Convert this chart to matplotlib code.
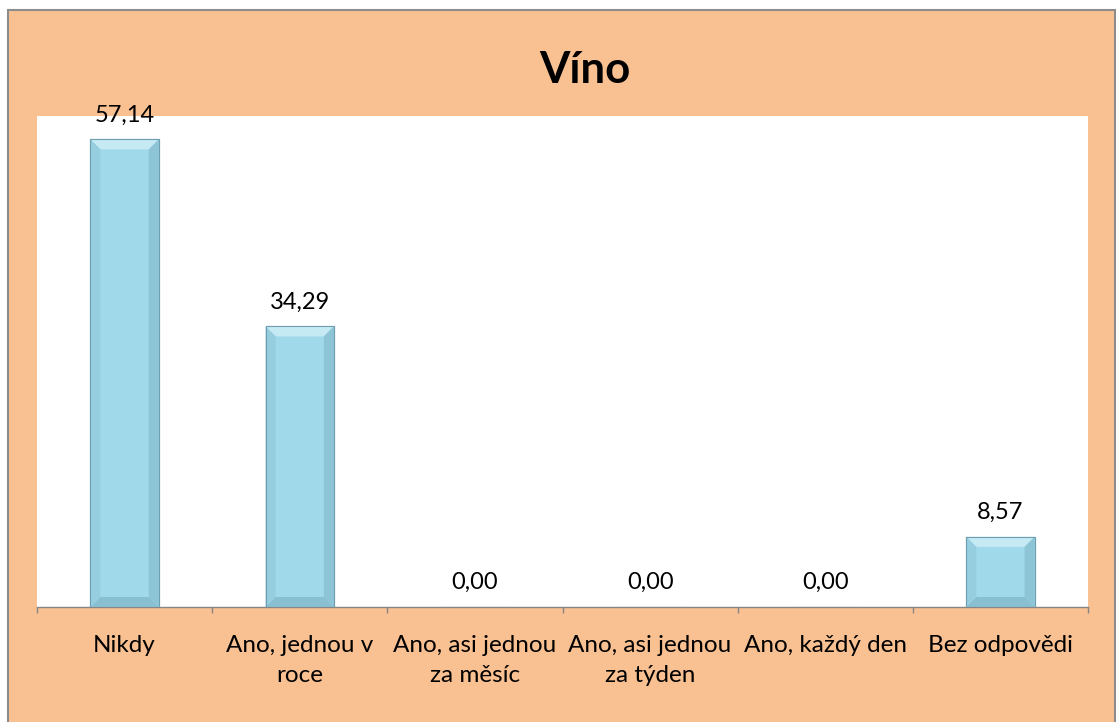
import matplotlib
matplotlib.use("Agg")
import matplotlib.pyplot as plt
from matplotlib.patches import Rectangle, Polygon
import numpy as np

categories = ["Nikdy", "Ano, jednou v\nroce", "Ano, asi jednou\nza měsíc",
              "Ano, asi jednou\nza týden", "Ano, každý den", "Bez odpovědi"]
values = [57.14, 34.29, 0.00, 0.00, 0.00, 8.57]
labels = ["57,14", "34,29", "0,00", "0,00", "0,00", "8,57"]
title = "Víno"

plt.rcParams['font.family'] = ['Lato', 'DejaVu Sans']

W, H = 1117, 722
fig = plt.figure(figsize=(W / 100, H / 100), dpi=100)
fig.patch.set_facecolor('white')

peach = '#F9C192'
fig.patches.append(Rectangle((8 / W, -0.01), (1115 - 8) / W, 1 - 10 / H + 0.01,
                             transform=fig.transFigure, facecolor=peach,
                             edgecolor='#8C8C8C', linewidth=1.5, zorder=-10))

ax = fig.add_axes([37 / W, 1 - 607 / H, (1088 - 37) / W, (607 - 116) / H])
ax.set_zorder(1)
ax.set_facecolor('white')
ax.set_xlim(-0.5, len(categories) - 0.5)
ax.set_ylim(0, 60)

x = np.arange(len(categories))
bw = 0.39
bars = ax.bar(x, values, width=bw, color='#A0D9EA', edgecolor='#6E9FB0',
              linewidth=0.8, zorder=3)

# bevel effect (derived from the bar geometry)
fig.canvas.draw()
inv = ax.transData.inverted()
for b in bars:
    h = b.get_height()
    if h <= 0:
        continue
    x0, y0 = b.get_x(), b.get_y()
    x1, y1 = x0 + b.get_width(), y0 + h
    (px0, py0), (px1, py1) = ax.transData.transform([(x0, y0), (x1, y1)])
    d = 10
    pts_outer = [(px0, py1), (px1, py1), (px1, py0), (px0, py0)]
    pts_inner = [(px0 + d, py1 - d), (px1 - d, py1 - d), (px1 - d, py0 + d), (px0 + d, py0 + d)]
    O = inv.transform(pts_outer)
    I = inv.transform(pts_inner)
    ax.add_patch(Polygon([O[0], O[1], I[1], I[0]], closed=True, facecolor='#C6EAF4',
                         edgecolor='none', zorder=4))
    ax.add_patch(Polygon([O[1], O[2], I[2], I[1]], closed=True, facecolor='#8DC5D6',
                         edgecolor='none', zorder=4))
    ax.add_patch(Polygon([O[2], O[3], I[3], I[2]], closed=True, facecolor='#88C0D2',
                         edgecolor='none', zorder=4))
    ax.add_patch(Polygon([O[3], O[0], I[0], I[3]], closed=True, facecolor='#96CEE0',
                         edgecolor='none', zorder=4))
    ax.add_patch(Rectangle((x0, y0), b.get_width(), h, facecolor='none',
                           edgecolor='#6E9FB0', linewidth=0.8, zorder=5))

for xi, v, lab in zip(x, values, labels):
    ax.annotate(lab, (xi, v), xytext=(0, 10), textcoords='offset points',
                ha='center', va='bottom', fontsize=17, color='black', zorder=6,
                annotation_clip=False)

for s in ['top', 'right', 'left']:
    ax.spines[s].set_visible(False)
ax.spines['bottom'].set_color('#868686')
ax.spines['bottom'].set_linewidth(1.0)
ax.set_yticks([])

ax.set_xticks(np.arange(-0.5, len(categories), 1.0))
ax.set_xticklabels([])
ax.tick_params(axis='x', which='major', length=4, color='#868686', width=1.0)
ax.set_xticks(x, minor=True)
ax.set_xticklabels(categories, minor=True, fontsize=17.5, linespacing=1.55)
ax.tick_params(axis='x', which='minor', length=0, pad=20)

fig.text(585 / W, 1 - 70 / H, title, ha='center', va='center',
         fontsize=31.5, fontweight='bold', color='black')

fig.savefig('out.png', dpi=100, facecolor=fig.get_facecolor())
